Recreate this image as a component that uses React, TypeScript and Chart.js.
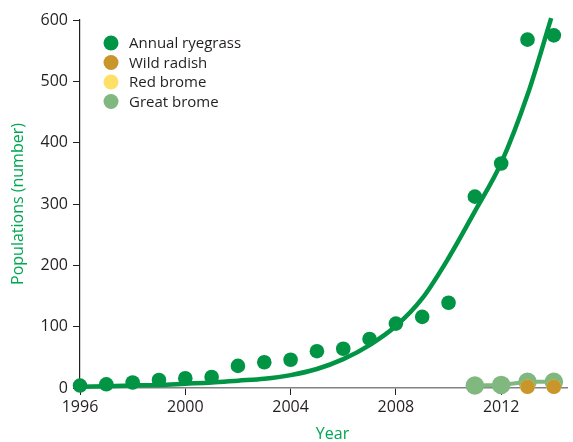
import React, { useEffect, useRef } from "react";
import { Chart, registerables } from "chart.js";

Chart.register(...registerables);

// Observed annual ryegrass populations
const ryegrassYears = [1996, 1997, 1998, 1999, 2000, 2001, 2002, 2003, 2004, 2005, 2006, 2007, 2008, 2009, 2010, 2011, 2012, 2013, 2014];
const ryegrassValues = [4, 6, 9, 13, 16, 18, 36, 42, 46, 60, 64, 80, 105, 116, 139, 312, 366, 568, 575];

// Fitted trend curve for annual ryegrass
const curveYears = [1996, 1997, 1998, 1999, 2000, 2001, 2002, 2003, 2004, 2005, 2006, 2007, 2008, 2009, 2010, 2011, 2012, 2013, 2013.9];
const curveValues = [2, 3, 4, 5, 7, 9, 12, 15, 21, 31, 47, 70, 101, 146, 212, 288, 367, 478, 603];

const radishYears = [2013, 2014];
const radishValues = [2, 2];

const redBromeYears = [2013, 2014];
const redBromeValues = [2, 2];

const greatBromeYears = [2011, 2012, 2013, 2014];
const greatBromeValues = [4, 5, 10, 10];

const yTicks = [0, 100, 200, 300, 400, 500, 600];
const xTicks = [1996, 2000, 2004, 2008, 2012];

const FONT = "'Open Sans', 'Noto Sans', sans-serif";
const TEXT = "#231f20";
const AXIS_GREEN = "#00a651";

const COLORS = {
  ryegrass: "#009444",
  radish: "#c9962b",
  redBrome: "#ffe066",
  greatBrome: "#80b880",
};

const pts = (xs: number[], ys: number[]) => xs.map((x, i) => ({ x, y: ys[i] }));

const overlayPlugin = {
  id: "overlay",
  afterDraw(chart: any) {
    const { ctx, chartArea } = chart;
    ctx.save();
    // Legend
    const items = chart.data.datasets.filter((d: any) => d.showInLegend);
    items.sort((a: any, b: any) => a.legendIndex - b.legendIndex);
    items.forEach((d: any, i: number) => {
      const cx = chartArea.left + 31;
      const cy = chartArea.top + 23 + i * 19.5;
      ctx.beginPath();
      ctx.arc(cx, cy, 7.5, 0, Math.PI * 2);
      ctx.fillStyle = d.backgroundColor;
      ctx.fill();
      ctx.fillStyle = TEXT;
      ctx.font = `15px ${FONT}`;
      ctx.textAlign = "left";
      ctx.textBaseline = "middle";
      ctx.fillText(d.label, cx + 18, cy + 1);
    });
    // Axis titles
    ctx.fillStyle = AXIS_GREEN;
    ctx.font = `16px ${FONT}`;
    ctx.textAlign = "center";
    ctx.textBaseline = "middle";
    ctx.fillText("Year", (chartArea.left + chartArea.right) / 2 + 9, chartArea.bottom + 46);
    ctx.translate(18, (chartArea.top + chartArea.bottom) / 2);
    ctx.rotate(-Math.PI / 2);
    ctx.fillText("Populations (number)", 0, 0);
    ctx.restore();
  },
};

export default function App() {
  const canvasRef = useRef<HTMLCanvasElement | null>(null);

  useEffect(() => {
    const canvas = canvasRef.current;
    if (!canvas) return;
    const chart = new Chart(canvas, {
      type: "scatter",
      data: {
        datasets: [
          {
            label: "Trend",
            type: "line",
            data: pts(curveYears, curveValues),
            borderColor: COLORS.ryegrass,
            borderWidth: 4.5,
            pointRadius: 0,
            cubicInterpolationMode: "monotone",
            showLine: true,
            fill: false,
            clip: false,
          } as any,
          {
            label: "Annual ryegrass",
            data: pts(ryegrassYears, ryegrassValues),
            backgroundColor: COLORS.ryegrass,
            borderWidth: 0,
            pointRadius: 7.3,
            clip: false,
            showInLegend: true,
            legendIndex: 0,
          } as any,
          {
            label: "Wild radish",
            data: pts(radishYears, radishValues),
            backgroundColor: COLORS.radish,
            borderWidth: 0,
            pointRadius: 7.3,
            clip: false,
            showInLegend: true,
            legendIndex: 1,
          } as any,
          {
            label: "Red brome",
            data: pts(redBromeYears, redBromeValues),
            backgroundColor: COLORS.redBrome,
            borderWidth: 0,
            pointRadius: 7.3,
            clip: false,
            showInLegend: true,
            legendIndex: 2,
          } as any,
          {
            label: "Great brome",
            data: pts(greatBromeYears, greatBromeValues),
            backgroundColor: COLORS.greatBrome,
            borderColor: COLORS.greatBrome,
            borderWidth: 4,
            showLine: true,
            pointRadius: 7.3,
            clip: false,
            showInLegend: true,
            legendIndex: 3,
          } as any,
        ],
      },
      options: {
        animation: false,
        responsive: false,
        layout: { autoPadding: false, padding: { top: 20, right: 6, left: 0, bottom: 0 } },
        plugins: {
          legend: { display: false },
          tooltip: { enabled: false },
          title: { display: false },
        },
        scales: {
          x: {
            type: "linear",
            min: 1996,
            max: 2014.5,
            afterFit: (s: any) => {
              s.height = 54;
              s.paddingRight = 0;
              s.paddingLeft = 0;
            },
            afterBuildTicks: (s: any) => {
              s.ticks = xTicks.map((v) => ({ value: v }));
            },
            ticks: {
              color: TEXT,
              font: { family: FONT, size: 16 },
              padding: 3,
              maxRotation: 0,
              callback: (v: any) => String(v),
            },
            grid: {
              drawOnChartArea: false,
              drawTicks: true,
              tickLength: 7,
              color: "#231f20",
            },
            border: { display: true, color: "#808285", width: 1.5 },
          },
          y: {
            type: "linear",
            min: 0,
            max: 600,
            afterFit: (s: any) => {
              s.width = 80;
              s.paddingTop = 0;
              s.paddingBottom = 0;
            },
            afterBuildTicks: (s: any) => {
              s.ticks = yTicks.map((v) => ({ value: v }));
            },
            ticks: {
              color: TEXT,
              font: { family: FONT, size: 16 },
              padding: 5,
            },
            grid: {
              drawOnChartArea: false,
              drawTicks: true,
              tickLength: 7,
              color: "#231f20",
            },
            border: { display: true, color: "#231f20", width: 1.2 },
          },
        },
      } as any,
      plugins: [overlayPlugin],
    });
    return () => chart.destroy();
  }, []);

  return (
    <div style={{ position: "absolute", left: 0, top: 0, width: 573, height: 442, background: "#fff" }}>
      <canvas ref={canvasRef} width={573} height={442} />
    </div>
  );
}
